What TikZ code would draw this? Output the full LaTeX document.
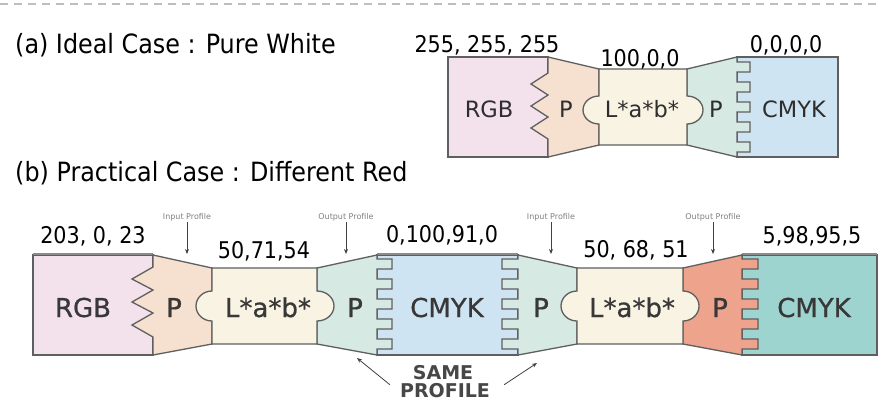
\documentclass[tikz,border=0pt]{standalone}
\usepackage{fontspec}
\setmainfont{DejaVu Sans}[FakeStretch=0.9]
\newfontfamily\boxfont{DejaVu Sans}
\newfontfamily\boxfontheavy{DejaVu Sans}[FakeBold=0.7]
\usetikzlibrary{arrows.meta}

\definecolor{rgbpink}{RGB}{243,225,236}
\definecolor{inpeach}{RGB}{246,224,208}
\definecolor{labcream}{RGB}{248,243,226}
\definecolor{outmint}{RGB}{214,233,226}
\definecolor{cmykblue}{RGB}{207,228,242}
\definecolor{outsalmon}{RGB}{237,163,140}
\definecolor{cmykteal}{RGB}{158,212,207}
\definecolor{edgegray}{RGB}{95,95,95}
\definecolor{rulegray}{RGB}{190,190,190}

\tikzset{
  region/.style={draw=edgegray, line width=1.3pt, line join=miter},
  capline/.style={font=\fontsize{26.5}{30}\selectfont, anchor=west, inner sep=0pt},
  value/.style={font=\fontsize{23}{26}\selectfont, anchor=base, inner sep=0pt},
  tagA/.style={font=\boxfont\fontsize{22.5}{24}\selectfont, text=black!82, anchor=base, inner sep=0pt},
  tagB/.style={font=\boxfontheavy\fontsize{26}{28}\selectfont, text=black!78, anchor=base, inner sep=0pt},
  note/.style={font=\boxfont\fontsize{8}{9}\selectfont, text=black!50, inner sep=1pt},
  remark/.style={font=\boxfont\bfseries\fontsize{19}{19}\selectfont, text=black!72, anchor=base, inner sep=0pt},
  pointer/.style={draw=black!75, line width=0.8pt, -{Stealth[length=5pt,width=4pt]}},
  topband/.style={draw=black!45, line width=2.6pt},
}

\begin{document}
\begin{tikzpicture}[x=1pt, y=-1pt]
\useasboundingbox (0,0) rectangle (882,416);
\fill[white] (0,0) rectangle (882,416);

% separator rule
\draw[rulegray, line width=2pt, dash pattern=on 8pt off 6pt] (0,4) -- (882,4);

% captions
\node[capline] (capa) at (15,45) {(a) Ideal Case : Pure White};
\node[capline] (capb) at (15,173) {(b) Practical Case : Different Red};

% ---------- (a) ideal chain ----------
\path[region, fill=rgbpink]  (448,57) rectangle (548,157);
\path[region, fill=cmykblue] (737,57) rectangle (838,157);
% input profile with zigzag edge
\path[region, fill=inpeach] (548,57) -- (599,69) -- (599,145) -- (548,157)
  -- (548,139) -- (531,128) -- (548,117) -- (531,106) -- (548,95) -- (531,84) -- (548,73) -- cycle;
% output profile with comb edge
\path[region, fill=outmint] (687,69) -- (737,57)
  -- (737,62) -- (750,62) -- (750,72) -- (737,72)
  -- (737,82) -- (750,82) -- (750,92) -- (737,92)
  -- (737,102) -- (750,102) -- (750,112) -- (737,112)
  -- (737,122) -- (750,122) -- (750,132) -- (737,132)
  -- (737,142) -- (750,142) -- (750,152) -- (737,152)
  -- (737,157) -- (687,145) -- cycle;
% connection space with rounded tabs
\path[region, fill=labcream] (599,69) -- (687,69) -- (687,96)
  arc[start angle=-90, end angle=90, x radius=16, y radius=14]
  -- (687,145) -- (599,145) -- (599,124)
  arc[start angle=90, end angle=270, x radius=16, y radius=14] -- cycle;

\node[value] (va1) at (487,52) {255, 255, 255};
\node[value] (va2) at (640,66) {100,0,0};
\node[value] (va3) at (786,52) {0,0,0,0};

\node[tagA] (ta1) at (489,117) {RGB};
\node[tagA] (ta2) at (566,117) {P};
\node[tagA] (ta3) at (642,117) {L*a*b*};
\node[tagA] (ta4) at (716,117) {P};
\node[tagA] (ta5) at (794,117) {CMYK};

% ---------- (b) practical chain ----------
\path[region, fill=rgbpink]   (33,255) rectangle (153,355);
\path[region, fill=cmykblue]  (377,255) rectangle (518,355);
\path[region, fill=cmykteal]  (742,255) rectangle (877,355);
\draw[topband] (33,254) -- (153,254);
\draw[topband] (377,254) -- (518,254);
\draw[topband] (742,254) -- (877,254);

% input profile 1 (zigzag)
\path[region, fill=inpeach] (153,255) -- (212,268) -- (212,344) -- (153,355)
  -- (153,337) -- (132,325) -- (153,313) -- (132,302) -- (153,290) -- (132,279) -- (153,267) -- cycle;
% output profile 1 (comb to the right)
\path[region, fill=outmint] (317,268) -- (377,255)
  -- (377,259) -- (392,259) -- (392,269) -- (377,269)
  -- (377,279) -- (392,279) -- (392,289) -- (377,289)
  -- (377,299) -- (392,299) -- (392,309) -- (377,309)
  -- (377,319) -- (392,319) -- (392,329) -- (377,329)
  -- (377,339) -- (392,339) -- (392,349) -- (377,349)
  -- (377,355) -- (317,344) -- cycle;
% input profile 2 (comb to the left)
\path[region, fill=outmint] (518,255) -- (577,268) -- (577,344) -- (518,355)
  -- (518,349) -- (502,349) -- (502,339) -- (518,339)
  -- (518,329) -- (502,329) -- (502,319) -- (518,319)
  -- (518,309) -- (502,309) -- (502,299) -- (518,299)
  -- (518,289) -- (502,289) -- (502,279) -- (518,279)
  -- (518,269) -- (502,269) -- (502,259) -- (518,259) -- cycle;
% output profile 2 (comb to the right)
\path[region, fill=outsalmon] (683,268) -- (742,255)
  -- (742,259) -- (758,259) -- (758,269) -- (742,269)
  -- (742,279) -- (758,279) -- (758,289) -- (742,289)
  -- (742,299) -- (758,299) -- (758,309) -- (742,309)
  -- (742,319) -- (758,319) -- (758,329) -- (742,329)
  -- (742,339) -- (758,339) -- (758,349) -- (742,349)
  -- (742,355) -- (683,344) -- cycle;
% connection spaces
\path[region, fill=labcream] (212,268) -- (317,268) -- (317,291)
  arc[start angle=-90, end angle=90, x radius=17, y radius=15]
  -- (317,344) -- (212,344) -- (212,321)
  arc[start angle=90, end angle=270, x radius=16, y radius=15] -- cycle;
\path[region, fill=labcream] (577,268) -- (683,268) -- (683,291)
  arc[start angle=-90, end angle=90, x radius=16, y radius=15]
  -- (683,344) -- (577,344) -- (577,321)
  arc[start angle=90, end angle=270, x radius=16, y radius=15] -- cycle;

\node[value] (vb1) at (93,243) {203, 0, 23};
\node[value] (vb2) at (264,258) {50,71,54};
\node[value] (vb3) at (442,242) {0,100,91,0};
\node[value] (vb4) at (636,257) {50, 68, 51};
\node[value] (vb5) at (812,243) {5,98,95,5};

\node[tagB] (tb1) at (83,317) {RGB};
\node[tagB] (tb2) at (174,317) {P};
\node[tagB] (tb3) at (268,317) {L*a*b*};
\node[tagB] (tb4) at (355,317) {P};
\node[tagB] (tb5) at (447,317) {CMYK};
\node[tagB] (tb6) at (541,317) {P};
\node[tagB] (tb7) at (632,317) {L*a*b*};
\node[tagB] (tb8) at (720,317) {P};
\node[tagB] (tb9) at (814,317) {CMYK};

% profile markers
\node[note] (in1)  at (187,217) {Input Profile};
\node[note] (out1) at (346,217) {Output Profile};
\node[note] (in2)  at (551,217) {Input Profile};
\node[note] (out2) at (713,217) {Output Profile};
\coordinate (pin1)  at (187,254);
\coordinate (pout1) at (346,254);
\coordinate (pin2)  at (551,254);
\coordinate (pout2) at (713,254);
\draw[pointer] (in1.south)  -- (pin1);
\draw[pointer] (out1.south) -- (pout1);
\draw[pointer] (in2.south)  -- (pin2);
\draw[pointer] (out2.south) -- (pout2);

% same-profile remark
\node[remark] (same1) at (443,379) {SAME};
\node[remark] (same2) at (445,397) {PROFILE};
\coordinate (tl) at (357,358);
\coordinate (tr) at (537,363);
\draw[pointer] ([xshift=-10pt,yshift=-2pt]same2.north west) -- (tl);
\draw[pointer] ([xshift=14pt,yshift=-2pt]same2.north east) -- (tr);
\end{tikzpicture}
\end{document}
